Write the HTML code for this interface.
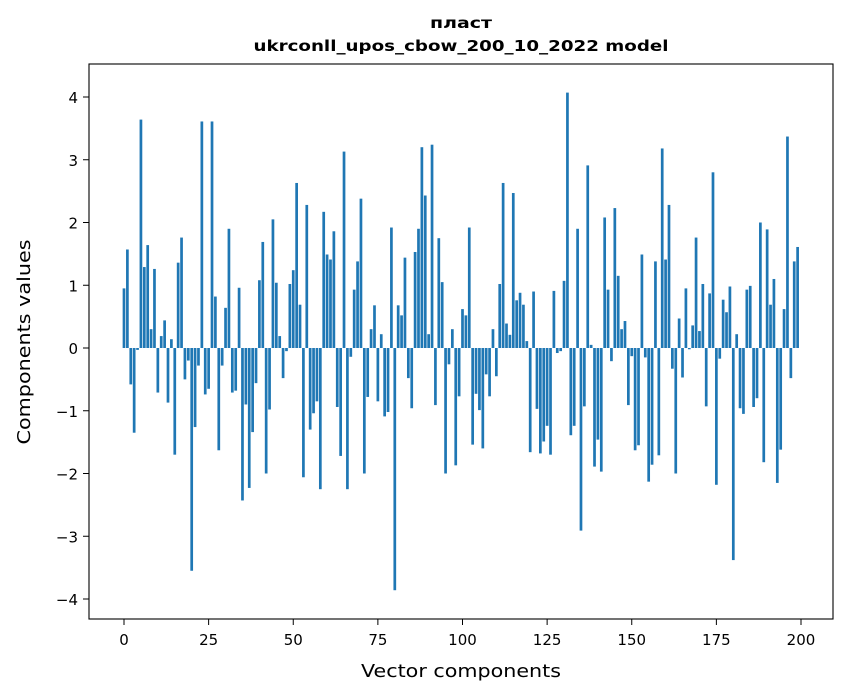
<!DOCTYPE html>
<html><head><meta charset="utf-8"><style>
body{margin:0;background:#fff;}
svg{display:block;font-family:"DejaVu Sans","Liberation Sans",sans-serif;}
</style></head><body>
<svg id="chart" width="847" height="696" viewBox="0 0 847 696">
<rect width="847" height="696" fill="#fff"/>
<text x="461" y="28" text-anchor="middle" font-size="15" font-weight="bold" textLength="62" lengthAdjust="spacingAndGlyphs">пласт</text>
<text x="461" y="51" text-anchor="middle" font-size="15" font-weight="bold" textLength="415" lengthAdjust="spacingAndGlyphs">ukrconll_upos_cbow_200_10_2022 model</text>
<g id="bars"></g>
<g id="axes"></g>
<rect x="89" y="64" width="744" height="555" fill="none" stroke="#000" stroke-width="1.1"/>
<text x="461" y="677" text-anchor="middle" font-size="18" textLength="200" lengthAdjust="spacingAndGlyphs">Vector components</text>
<text transform="translate(30,342) rotate(-90)" text-anchor="middle" font-size="18" textLength="205" lengthAdjust="spacingAndGlyphs">Components values</text>
</svg>
<script>
const values = [0.95,1.57,-0.58,-1.35,-0.03,3.64,1.29,1.64,0.3,1.26,
-0.71,0.19,0.44,-0.87,0.14,-1.7,1.36,1.76,-0.5,-0.2,
-3.55,-1.26,-0.28,3.61,-0.74,-0.65,3.61,0.82,-1.63,-0.28,
0.64,1.9,-0.71,-0.68,0.96,-2.43,-0.9,-2.23,-1.34,-0.56,
1.08,1.69,-2.0,-0.98,2.05,1.04,0.19,-0.48,-0.05,1.02,
1.24,2.63,0.69,-2.06,2.28,-1.3,-1.04,-0.85,-2.25,2.17,
1.49,1.41,1.86,-0.94,-1.72,3.13,-2.25,-0.14,0.93,1.38,
2.38,-2.0,-0.78,0.3,0.68,-0.85,0.22,-1.09,-1.02,1.92,
-3.86,0.68,0.52,1.44,-0.48,-0.96,1.53,1.9,3.2,2.43,
0.22,3.24,-0.91,1.75,1.05,-2.0,-0.26,0.3,-1.87,-0.77,
0.62,0.52,1.92,-1.54,-0.73,-0.99,-1.6,-0.42,-0.77,0.3,
-0.45,1.02,2.63,0.39,0.21,2.47,0.76,0.88,0.69,0.11,
-1.66,0.9,-0.97,-1.68,-1.49,-1.24,-1.7,0.91,-0.08,-0.05,
1.07,4.07,-1.39,-1.24,1.9,-2.91,-0.93,2.91,0.05,-1.89,
-1.46,-1.97,2.08,0.93,-0.21,2.23,1.15,0.3,0.43,-0.91,
-0.13,-1.63,-1.55,1.49,-0.15,-2.13,-1.86,1.38,-1.71,3.18,
1.41,2.28,-0.33,-2.0,0.47,-0.47,0.95,-0.02,0.36,1.76,
0.27,1.02,-0.93,0.87,2.8,-2.18,-0.17,0.77,0.57,0.98,
-3.38,0.22,-0.96,-1.05,0.93,0.99,-0.94,-0.8,2.0,-1.82,
1.89,0.69,1.1,-2.15,-1.62,0.62,3.37,-0.48,1.38,1.61];
const xTicks = [0,25,50,75,100,125,150,175,200];
const yTicks = [-4,-3,-2,-1,0,1,2,3,4];
const yTickLabels = ["\u22124","\u22123","\u22122","\u22121","0","1","2","3","4"];

const NS = "http://www.w3.org/2000/svg";
function xs(v){ return 124 + (801-124)*v/200; }
function ys(v){ return 348 - 62.75*v; }
const barsG = document.getElementById('bars');
const axesG = document.getElementById('axes');
const bw = (xs(1)-xs(0))*0.8;
values.forEach((v,i)=>{
  const r = document.createElementNS(NS,'rect');
  
  
  r.setAttribute('x', xs(i)-bw/2);
  r.setAttribute('width', bw);
  r.setAttribute('y', Math.min(ys(v), ys(0)));
  r.setAttribute('height', Math.abs(ys(v)-ys(0)));
  r.setAttribute('fill', '#1f77b4');
  barsG.appendChild(r);
});
xTicks.forEach(t=>{
  const l = document.createElementNS(NS,'line');
  
  
  l.setAttribute('x1', xs(t)); l.setAttribute('x2', xs(t));
  l.setAttribute('y1', 619); l.setAttribute('y2', 625);
  l.setAttribute('stroke', '#000');
  axesG.appendChild(l);
  const tx = document.createElementNS(NS,'text');
  
  
  tx.setAttribute('x', xs(t)); tx.setAttribute('y', 645);
  tx.setAttribute('text-anchor', 'middle'); tx.setAttribute('font-size', '15');
  tx.textContent = String(t);
  axesG.appendChild(tx);
});
yTicks.forEach((t,k)=>{
  const l = document.createElementNS(NS,'line');
  
  
  l.setAttribute('x1', 83); l.setAttribute('x2', 89);
  l.setAttribute('y1', ys(t)); l.setAttribute('y2', ys(t));
  l.setAttribute('stroke', '#000');
  axesG.appendChild(l);
  const tx = document.createElementNS(NS,'text');
  
  
  tx.setAttribute('x', 78); tx.setAttribute('y', ys(t)+6);
  tx.setAttribute('text-anchor', 'end'); tx.setAttribute('font-size', '15');
  tx.textContent = yTickLabels[k];
  axesG.appendChild(tx);
});
</script>
</body></html>
